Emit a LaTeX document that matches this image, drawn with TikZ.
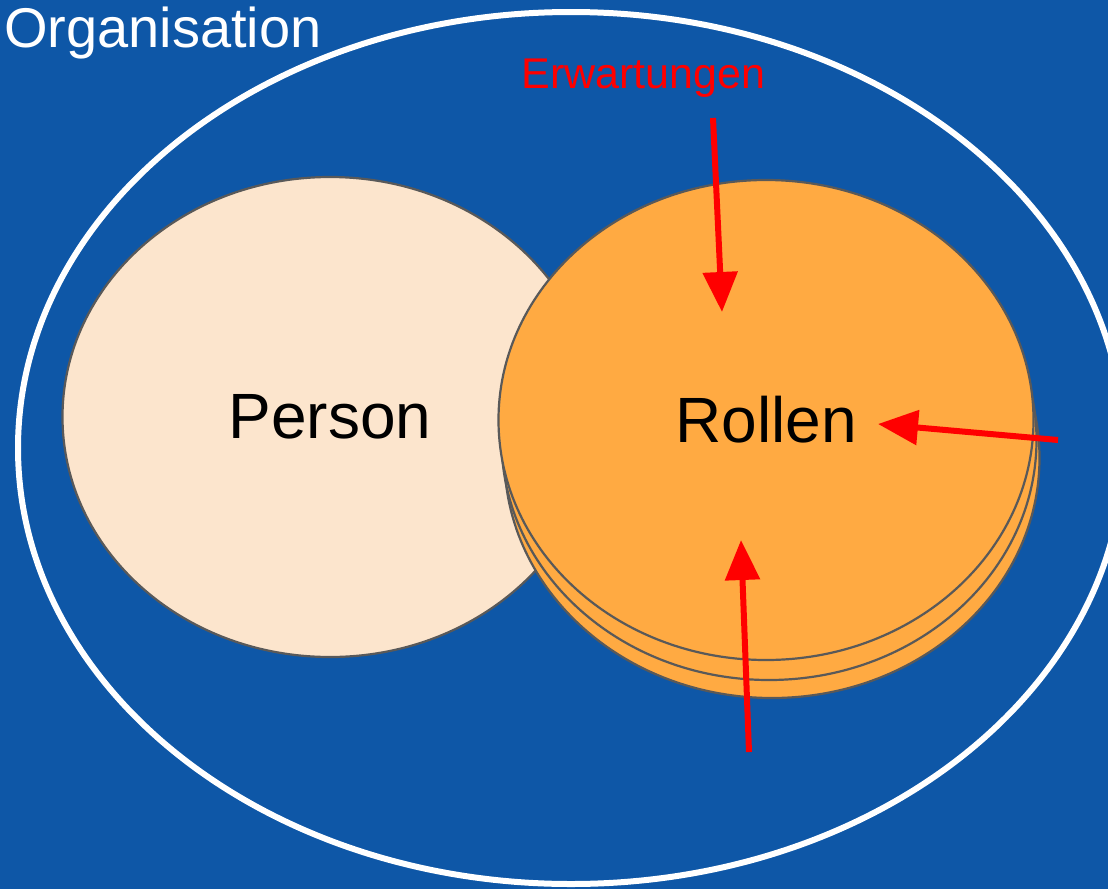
\documentclass[tikz,border=0pt]{standalone}
\usepackage{fontspec}
\setmainfont{Liberation Sans}
\usetikzlibrary{shapes.geometric,arrows.meta}
\definecolor{orgblue}{HTML}{0E57A7}
\definecolor{rolorange}{HTML}{FFAA42}
\definecolor{perscol}{HTML}{FCE5CD}
\definecolor{edgegray}{HTML}{595959}
\definecolor{arrred}{HTML}{FF0000}
\tikzset{
  blob/.style={ellipse, draw=edgegray, line width=2.2pt, inner sep=0pt,
    minimum width=535pt, minimum height=480pt},
  rolle/.style={blob, fill=rolorange},
  expect/.style={draw=arrred, line width=6pt, -{Triangle[length=40pt,width=34pt]}},
}
\begin{document}
\begin{tikzpicture}[x=1pt,y=-1pt]
\useasboundingbox (0,0) rectangle (1108,889);
\fill[orgblue] (0,0) rectangle (1108,889);
\node[ellipse, draw=white, line width=6pt, inner sep=0pt,
  minimum width=1106pt, minimum height=872pt] (org) at (571,448) {};
\node[anchor=base west, text=white, font=\fontsize{56}{60}\selectfont, inner sep=0pt] (orglabel) at (4,47) {Organisation};
\node[blob, fill=perscol, font=\fontsize{64}{70}\selectfont] (person) at (330,417) {Person};
\node[rolle] (rolle3) at (772,458) {};
\node[rolle] (rolle2) at (769,440) {};
\node[rolle, font=\fontsize{64}{70}\selectfont] (rolle1) at (766,420) {Rollen};
\node[anchor=base, text=arrred, font=\fontsize{43}{48}\selectfont, inner sep=0pt] (erw) at (643.5,88) {Erwartungen};
\coordinate (topstart) at (713,118);
\coordinate (toptip) at (722,312);
\coordinate (rightstart) at (1058,440);
\coordinate (righttip) at (878,424);
\coordinate (botstart) at (749,752);
\coordinate (bottip) at (741,540);
\draw[expect] (topstart) -- (toptip);
\draw[expect] (rightstart) -- (righttip);
\draw[expect] (botstart) -- (bottip);
\end{tikzpicture}
\end{document}
